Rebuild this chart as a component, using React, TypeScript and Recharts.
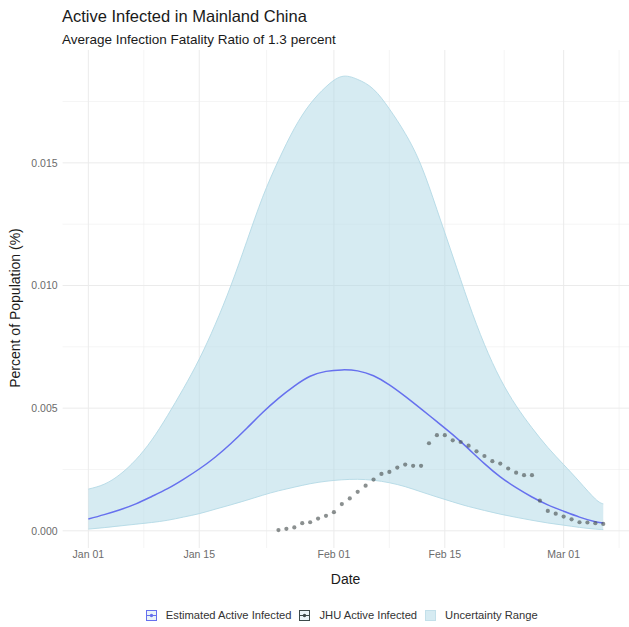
import React from "react";
import { Area, CartesianGrid, ComposedChart, Line, XAxis, YAxis } from "recharts";

// days counted from Jan 01 2020
const modelDays = [0, 2, 4, 6, 8, 10, 12, 14, 16, 18, 20, 22, 24, 26, 28, 30, 32, 34, 36, 38, 40, 42, 44, 46, 48, 50, 52, 54, 56, 58, 60, 62, 64, 65];
const estimatedActive = [
  0.00048, 0.00066, 0.00086, 0.0011, 0.0014, 0.00172, 0.0021, 0.00252, 0.003, 0.00356, 0.00418, 0.00482, 0.0054, 0.0059, 0.0063, 0.0065, 0.00656,
  0.00652, 0.00632, 0.00595, 0.00548, 0.00497, 0.00445, 0.00392, 0.00334, 0.00274, 0.0022, 0.00176, 0.00138, 0.00106, 0.0008, 0.00056, 0.00037, 0.00032,
];
const lowerBound = [
  0.00007, 0.00013, 0.0002, 0.00027, 0.00034, 0.00043, 0.00056, 0.0007, 0.00088, 0.00106, 0.00125, 0.00145, 0.00163, 0.00178, 0.00192, 0.00202, 0.00208,
  0.0021, 0.00206, 0.00196, 0.0018, 0.00159, 0.00138, 0.00118, 0.00099, 0.00083, 0.00068, 0.00055, 0.00043, 0.00032, 0.00023, 0.00014, 0.00007, 0.00005,
];
const upperBound = [
  0.0017, 0.0019, 0.0023, 0.0029, 0.0037, 0.0047, 0.0058, 0.007, 0.0084, 0.01, 0.0118, 0.0136, 0.0151, 0.0164, 0.0174, 0.0181, 0.01852,
  0.0184, 0.018, 0.0172, 0.0162, 0.0149, 0.0131, 0.0112, 0.0093, 0.0076, 0.0062, 0.0051, 0.0042, 0.0034, 0.0027, 0.002, 0.0013, 0.0011,
];

const jhuDays = [24, 25, 26, 27, 28, 29, 30, 31, 32, 33, 34, 35, 36, 37, 38, 39, 40, 41, 42, 43, 44, 45, 46, 47, 48, 49, 50, 51, 52, 53, 54, 55, 56, 57, 58, 59, 60, 61, 62, 63, 64, 65];
const jhuActive = [
  0.00003, 0.00008, 0.00014, 0.00031, 0.00035, 0.0005, 0.00061, 0.00076, 0.00109, 0.00132, 0.00159, 0.00184, 0.00209, 0.00232, 0.0024, 0.00258, 0.0027,
  0.00265, 0.00265, 0.00357, 0.0039, 0.0039, 0.00369, 0.00362, 0.00347, 0.00324, 0.00305, 0.00284, 0.00274, 0.00254, 0.00237, 0.00227, 0.00227, 0.00123,
  0.00081, 0.0007, 0.00058, 0.00047, 0.00035, 0.00034, 0.00031, 0.00028,
];

const dateTicks = [0, 14, 31, 45, 60];
const dateTickLabels = ["Jan 01", "Jan 15", "Feb 01", "Feb 15", "Mar 01"];
const minorDateLines = [7, 22.5, 38, 52.5, 67];
const valueTicks = [0, 0.005, 0.01, 0.015];
const minorValueLines = [0.0025, 0.0075, 0.0125, 0.0175];

const modelRows = modelDays.map((day, i) => ({
  day,
  est: estimatedActive[i],
  band: [lowerBound[i], upperBound[i]],
}));
const jhuRows = jhuDays.map((day, i) => ({ day, jhu: jhuActive[i] }));

const FONT = "'Liberation Sans', Arial, Helvetica, sans-serif";
const LINE_BLUE = "#6670EE";
const DOT_GREY = "#4d5555";
const BAND_FILL = "#ADD8E6";

function LegendKey({ kind }: { kind: "est" | "jhu" | "band" }) {
  if (kind === "band") {
    return (
      <svg width={11} height={11}>
        <rect x={0.5} y={0.5} width={10} height={10} fill="#D6EBF2" stroke="#C3E0EA" />
      </svg>
    );
  }
  const c = kind === "est" ? LINE_BLUE : "#3d4a4a";
  return (
    <svg width={11} height={11}>
      <rect x={0.5} y={0.5} width={10} height={10} fill="#EAF4F8" stroke={c} />
      <line x1={1} x2={10} y1={5.5} y2={5.5} stroke={c} strokeWidth={1} />
      <circle cx={5.5} cy={5.5} r={1.7} fill={c} />
    </svg>
  );
}

const legendItems: Array<{ kind: "est" | "jhu" | "band"; label: string }> = [
  { kind: "est", label: "Estimated Active Infected" },
  { kind: "jhu", label: "JHU Active Infected" },
  { kind: "band", label: "Uncertainty Range" },
];

export default function App() {
  return (
    <div style={{ position: "absolute", left: 0, top: 0, width: 629, height: 627, background: "#fff", fontFamily: FONT }}>
      <ComposedChart width={629} height={627} data={modelRows} margin={{ top: 50, right: 0, bottom: 49, left: 8 }}>
        <CartesianGrid stroke="#EEEEEE" strokeWidth={0.6} horizontalValues={minorValueLines} verticalValues={minorDateLines} />
        <CartesianGrid stroke="#EBEBEB" strokeWidth={1} horizontalValues={valueTicks} verticalValues={dateTicks} />
        <XAxis
          dataKey="day"
          type="number"
          domain={[-3.25, 68.25]}
          ticks={dateTicks}
          tickFormatter={(v) => dateTickLabels[dateTicks.indexOf(Number(v))] ?? ""}
          axisLine={false}
          tickLine={false}
          tickSize={0}
          tickMargin={3}
          height={30}
          tick={{ fill: "#6b6b6b", fontSize: 10.5, fontFamily: FONT }}
          allowDataOverflow
        />
        <YAxis
          type="number"
          domain={[-0.0007, 0.0196]}
          ticks={valueTicks}
          tickFormatter={(v) => Number(v).toFixed(3)}
          axisLine={false}
          tickLine={false}
          tickSize={0}
          tickMargin={5}
          width={54.6}
          tick={{ fill: "#6b6b6b", fontSize: 10.5, fontFamily: FONT }}
          allowDataOverflow
        />
        <Area
          type="natural"
          dataKey="band"
          fill={BAND_FILL}
          fillOpacity={0.5}
          stroke="#B3D9E5"
          strokeWidth={0.9}
          isAnimationActive={false}
        />
        <Line type="natural" dataKey="est" stroke={LINE_BLUE} strokeWidth={1.5} dot={false} isAnimationActive={false} />
        <Line
          data={jhuRows}
          dataKey="jhu"
          stroke="none"
          dot={{ r: 2.1, fill: DOT_GREY, fillOpacity: 0.65, stroke: "none" }}
          activeDot={false}
          isAnimationActive={false}
        />
      </ComposedChart>

      <svg width={629} height={627} style={{ position: "absolute", left: 0, top: 0, pointerEvents: "none" }} fontFamily={FONT}>
        <text x={62} y={22} fontSize={16.5} fill="#1a1a1a">
          Active Infected in Mainland China
        </text>
        <text x={62} y={43.5} fontSize={13.5} fill="#1a1a1a">
          Average Infection Fatality Ratio of 1.3 percent
        </text>
        <text x={20} y={308} fontSize={14} fill="#1a1a1a" textAnchor="middle" transform="rotate(-90 20 308)">
          Percent of Population (%)
        </text>
        <text x={345.6} y={584} fontSize={14} fill="#1a1a1a" textAnchor="middle">
          Date
        </text>
      </svg>

      <div
        style={{
          position: "absolute",
          left: 62.6,
          top: 607,
          width: 566.4,
          height: 16,
          display: "flex",
          justifyContent: "center",
          alignItems: "center",
          fontSize: 11.2,
          color: "#333",
        }}
      >
        {legendItems.map((item) => (
          <div key={item.kind} style={{ display: "flex", alignItems: "center", marginRight: 8 }}>
            <LegendKey kind={item.kind} />
            <span style={{ marginLeft: 9 }}>{item.label}</span>
          </div>
        ))}
      </div>
    </div>
  );
}
